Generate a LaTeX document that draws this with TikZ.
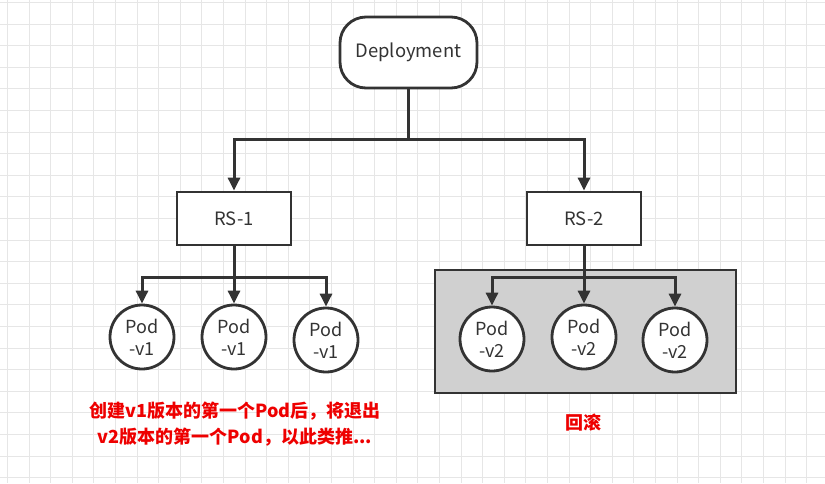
\documentclass[tikz,border=0pt]{standalone}
\usepackage{fontspec}
\setmainfont{Noto Sans CJK SC}
\usetikzlibrary{arrows.meta}
\definecolor{ln}{HTML}{333333}
\definecolor{gridc}{HTML}{E6E6E6}
\definecolor{boxgray}{HTML}{D0D0D0}
\definecolor{redtxt}{HTML}{EE0000}
\tikzset{
  every node/.style={font=\fontsize{18.4}{21}\selectfont, text=ln},
  roundbox/.style={draw=ln, line width=2.8pt, rounded corners=26pt, minimum width=137pt, minimum height=71pt, fill=white},
  rsbox/.style={draw=ln, line width=2.8pt, minimum width=114pt, minimum height=53pt, fill=white},
  pod/.style={draw=ln, line width=2.8pt, circle, minimum size=64pt, inner sep=0pt, fill=white, align=center, font=\fontsize{18}{22}\selectfont},
  arr/.style={draw=ln, line width=3pt, -{Triangle[length=13pt,width=12pt]}},
  note/.style={text=redtxt, font=\bfseries\fontsize{18}{26}\selectfont, align=center}
}
\begin{document}
\begin{tikzpicture}[x=1pt,y=-1pt]
\useasboundingbox (0,0) rectangle (825,483);
\fill[white] (0,0) rectangle (825,483);
\foreach \i in {0,...,38} {
  \draw[gridc, line width=1pt] ({7.5+21.6*\i},0) -- ({7.5+21.6*\i},483);
}
\foreach \j in {0,...,22} {
  \draw[gridc, line width=1pt] (0,{2.5+21.6*\j}) -- (825,{2.5+21.6*\j});
}
% gray group box
\node[draw=ln, line width=2.8pt, fill=boxgray, minimum width=301pt, minimum height=123pt, inner sep=0pt] (grp) at (585.5,331.5) {};

\node[roundbox] (dep) at (408.5,52.5) {Deployment};
\node[rsbox] (rs1) at (234,218.5) {RS-1};
\node[rsbox] (rs2) at (584,218.5) {RS-2};

\node[pod] (p1) at (142,337) {Pod\\-v1};
\node[pod] (p2) at (234,337) {Pod\\-v1};
\node[pod] (p3) at (326,340) {Pod\\-v1};

\node[pod] (q1) at (492,339) {Pod\\-v2};
\node[pod] (q2) at (584,337) {Pod\\-v2};
\node[pod] (q3) at (675,340) {Pod\\-v2};

\coordinate (j0) at (408.5,139);
\draw[arr] (dep.south) -- (j0) -| (rs1.north);
\draw[arr] (j0) -| (rs2.north);

\coordinate (j1) at (234,277);
\draw[arr] (rs1.south) -- (j1) -| (p1.north);
\draw[arr] (j1) -| (p3.north);
\draw[arr] (rs1.south) -- (p2.north);

\coordinate (j2) at (584,277);
\draw[arr] (rs2.south) -- (j2) -| (q1.north);
\draw[arr] (j2) -| (q3.north);
\draw[arr] (rs2.south) -- (q2.north);

\node[note] (t1) at (235,424) {创建v1版本的第一个Pod后，将退出\\v2版本的第一个Pod，以此类推...};
\node[note] (t2) at (583,423) {回滚};
\end{tikzpicture}
\end{document}
